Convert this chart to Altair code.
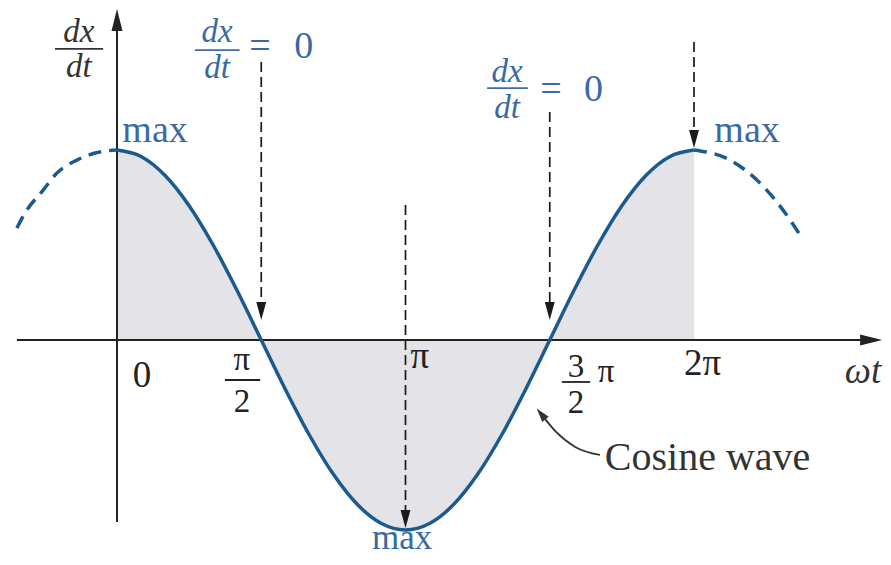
import altair as alt
import pandas as pd

# ---------------- data (x in units of pi, y in units of amplitude) ----------------
wave_x = [0.0, 0.0833, 0.1667, 0.25, 0.3333, 0.4167, 0.5, 0.5833, 0.6667, 0.75, 0.8333,
          0.9167, 1.0, 1.0833, 1.1667, 1.25, 1.3333, 1.4167, 1.5, 1.5833, 1.6667, 1.75,
          1.8333, 1.9167, 2.0]
wave_y = [1.0, 0.966, 0.866, 0.707, 0.5, 0.259, 0.0, -0.259, -0.5, -0.707, -0.866,
          -0.966, -1.0, -0.966, -0.866, -0.707, -0.5, -0.259, 0.0, 0.259, 0.5, 0.707,
          0.866, 0.966, 1.0]
left_dash_x = [-0.347, -0.319, -0.256, -0.208, -0.139, -0.076, 0.0]
left_dash_y = [0.589, 0.668, 0.789, 0.879, 0.947, 0.984, 1.0]
right_dash_x = [2.0, 2.125, 2.218, 2.287, 2.333, 2.374]
right_dash_y = [1.0, 0.947, 0.842, 0.726, 0.632, 0.537]

# dashed indicator arrows
arrow_x = [0.5, 1.5, 2.0, 1.0]
arrow_top = [1.463, 1.20, 1.568, 0.7105]
arrow_head = [0.1526, 0.1526, 1.058, -0.942]

# axis extents
haxis_x = [-0.347, 2.614]
vaxis_y = [-0.958, 1.684]

# fraction bars: x1, x2, y, colour
frac_x1 = [-0.215, 0.270, 1.283, 0.374, 1.542]
frac_x2 = [-0.048, 0.425, 1.424, 0.496, 1.640]
frac_y = [1.532, 1.526, 1.326, -0.2105, -0.221]
frac_col = ["#333333", "#3d6ca6", "#3d6ca6", "#222222", "#222222"]

# leader for "Cosine wave"
leader_x = [1.470, 1.522, 1.588, 1.674]
leader_y = [-0.389, -0.484, -0.563, -0.605]

# text labels
ital_dark_txt = ["dx", "dt"]
ital_dark_x = [-0.132, -0.132]
ital_dark_y = [1.568, 1.384]

omega_txt = ["ωt"]
omega_x = [2.586]
omega_y = [-0.226]

ital_blue_txt = ["dx", "dt", "dx", "dt"]
ital_blue_x = [0.347, 0.347, 1.352, 1.352]
ital_blue_y = [1.568, 1.379, 1.358, 1.168]

blue_txt = ["=", "0", "=", "0", "max", "max"]
blue_x = [0.496, 0.647, 1.504, 1.652, 0.132, 2.184]
blue_y = [1.484, 1.484, 1.258, 1.258, 1.042, 1.042]

bottom_txt = ["max"]
bottom_x = [0.988]
bottom_y = [-1.1]

tick_txt = ["0", "π", "2π"]
tick_x = [0.0867, 1.050, 2.030]
tick_y = [-0.247, -0.147, -0.184]

frac_txt = ["π", "2", "3", "2", "π"]
frac_tx = [0.433, 0.433, 1.591, 1.591, 1.695]
frac_ty = [-0.158, -0.379, -0.195, -0.384, -0.221]

note_txt = ["Cosine wave"]
note_x = [1.691]
note_y = [-0.684]

# ---------------- chart ----------------
W, H = 875, 549
XD = [-0.3778, 2.6551]
YD = [-1.1421, 1.7474]
FONT = "Liberation Serif"
CURVE = "#1b5a8e"
BLUE = "#3a69a3"

X = lambda f="x": alt.X(f"{f}:Q", scale=alt.Scale(domain=XD, nice=False, zero=False), axis=None)
Y = lambda f="y": alt.Y(f"{f}:Q", scale=alt.Scale(domain=YD, nice=False, zero=False), axis=None)

wave = pd.DataFrame({"x": wave_x, "y": wave_y})
ldash = pd.DataFrame({"x": left_dash_x, "y": left_dash_y})
rdash = pd.DataFrame({"x": right_dash_x, "y": right_dash_y})

area = alt.Chart(wave).mark_area(color="#e3e3e8", interpolate="monotone").encode(
    x=X(), y=Y(), y2=alt.datum(0))

curve = alt.Chart(wave).mark_line(color=CURVE, strokeWidth=3.5, interpolate="monotone").encode(
    x=X(), y=Y())
curve_l = alt.Chart(ldash).mark_line(color=CURVE, strokeWidth=3.5, strokeDash=[13, 8],
                                      interpolate="monotone").encode(x=X(), y=Y())
curve_r = alt.Chart(rdash).mark_line(color=CURVE, strokeWidth=3.5, strokeDash=[13, 8],
                                      interpolate="monotone").encode(x=X(), y=Y())

hax = alt.Chart(pd.DataFrame({"x": [haxis_x[0]], "x2": [haxis_x[1]], "y": [0.0]})).mark_rule(
    color="#222222", strokeWidth=2).encode(x=X(), x2="x2:Q", y=Y())
vax = alt.Chart(pd.DataFrame({"y": [vaxis_y[0]], "y2": [vaxis_y[1]], "x": [0.0]})).mark_rule(
    color="#222222", strokeWidth=2).encode(x=X(), y=Y(), y2="y2:Q")
hhead = alt.Chart(pd.DataFrame({"x": [2.614], "y": [0.0]})).mark_point(
    shape="M-1,-0.5L1,0L-1,0.5Z", filled=True, size=484, color="#222222", opacity=1,
    strokeWidth=0).encode(x=X(), y=Y())
vhead = alt.Chart(pd.DataFrame({"x": [0.0], "y": [1.684]})).mark_point(
    shape="M-0.5,1L0,-1L0.5,1Z", filled=True, size=484, color="#222222", opacity=1,
    strokeWidth=0).encode(x=X(), y=Y())

arr = pd.DataFrame({"x": arrow_x, "y": arrow_top, "y2": arrow_head})
arr_lines = alt.Chart(arr).mark_rule(color="#1a1a1a", strokeWidth=1.7, strokeDash=[10, 5]).encode(
    x=X(), y=Y(), y2="y2:Q")
arr_heads = alt.Chart(pd.DataFrame({"x": arrow_x, "y": arrow_head})).mark_point(
    shape="M-0.55,-1L0.55,-1L0,1Z", filled=True, size=324, color="#1a1a1a", opacity=1,
    strokeWidth=0).encode(x=X(), y=Y())

fr = pd.DataFrame({"x": frac_x1, "x2": frac_x2, "y": frac_y, "c": frac_col})
fracs = alt.Chart(fr).mark_rule(strokeWidth=1.8).encode(
    x=X(), x2="x2:Q", y=Y(), color=alt.Color("c:N", scale=None))

leader = alt.Chart(pd.DataFrame({"x": leader_x, "y": leader_y})).mark_line(
    color="#333333", strokeWidth=1.8, interpolate="monotone").encode(x=X(), y=Y())
leader_head = alt.Chart(pd.DataFrame({"x": [leader_x[0]], "y": [leader_y[0]]})).mark_point(
    shape="M0,-1L0.6,1L-0.6,1Z", filled=True, size=196, angle=321, color="#333333",
    opacity=1, strokeWidth=0).encode(x=X(), y=Y())


def texts(txt, xs, ys, size, color, style="normal", align="center"):
    df = pd.DataFrame({"x": xs, "y": ys, "t": txt})
    return alt.Chart(df).mark_text(font=FONT, fontSize=size, color=color, fontStyle=style,
                                   align=align, baseline="alphabetic").encode(
        x=X(), y=Y(), text="t:N")


t1 = texts(ital_dark_txt, ital_dark_x, ital_dark_y, 33, "#333333", "italic")
t1b = texts(omega_txt, omega_x, omega_y, 37, "#333333", "italic")
t2 = texts(ital_blue_txt, ital_blue_x, ital_blue_y, 33, BLUE, "italic")
t3 = texts(blue_txt, blue_x, blue_y, 38, BLUE)
t3b = texts(bottom_txt, bottom_x, bottom_y, 35, BLUE)
t4 = texts(tick_txt, tick_x, tick_y, 37, "#222222")
t4b = texts(frac_txt, frac_tx, frac_ty, 33, "#222222")
t5 = texts(note_txt, note_x, note_y, 40, "#333333", align="left")

chart = alt.layer(
    area, hax, vax, hhead, vhead, arr_lines, arr_heads, curve, curve_l, curve_r,
    fracs, leader, leader_head, t1, t1b, t2, t3, t3b, t4, t4b, t5
).properties(
    width=W, height=H, autosize=alt.AutoSizeParams(type="none"),
    padding={"left": 0, "right": 0, "top": 0, "bottom": 0}
).configure(background="white").configure_view(stroke="transparent", strokeWidth=0)

chart.save("out.html", embed_options={"renderer": "svg", "actions": False})
